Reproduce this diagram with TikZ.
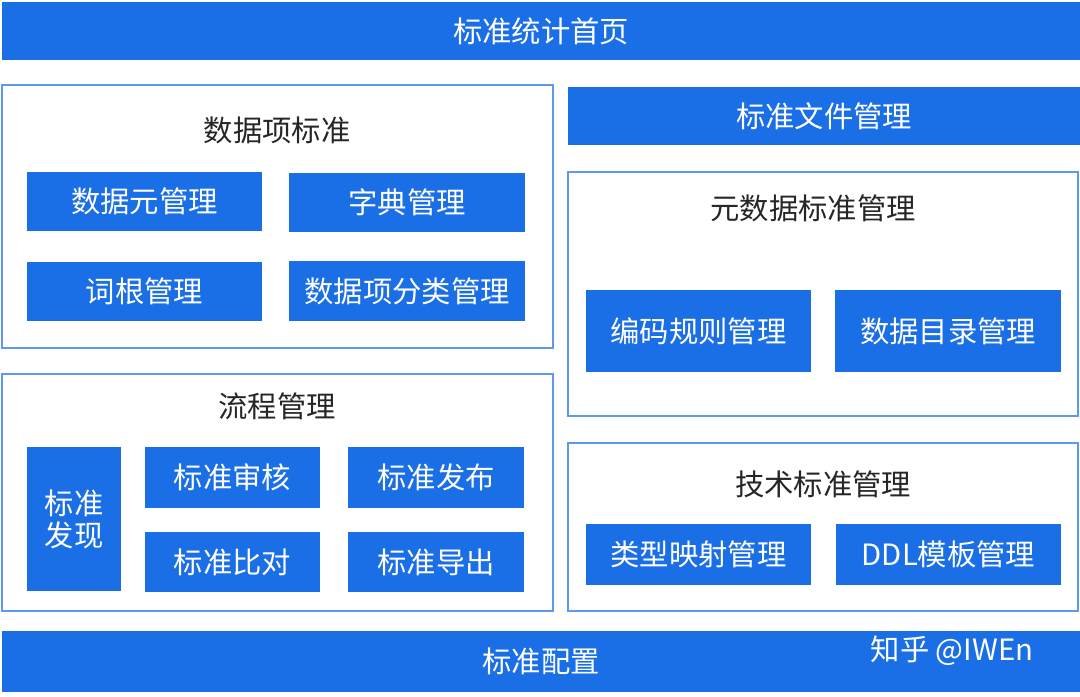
\documentclass[tikz,border=0pt]{standalone}
\usepackage{fontspec}
\setmainfont{Noto Sans CJK SC}
\begin{document}
\definecolor{bl}{HTML}{1A6EE6}
\begin{tikzpicture}[x=0.75pt,y=-0.75pt,
 fb/.style={fill=bl,draw=none,text=white,font=\fontsize{22}{26}\selectfont,inner sep=0},
 ob/.style={draw=bl!70,line width=1pt,fill=white},
 tt/.style={font=\fontsize{22}{26}\selectfont,text=black!85}]
\useasboundingbox (0,0) rectangle (1080,696);
\fill[white] (0,0) rectangle (1080,696);
\newcommand\fb[6]{\path[fb] (#1,#2) rectangle (#3,#4) node[midway,align=center] (#5) {#6};}
\fb{2}{2}{1080}{60}{top}{标准统计首页}
\draw[ob] (2,85) rectangle (553,348);
\node[tt] (t1) at (277,130) {数据项标准};
\fb{27}{172}{262}{231}{a1}{数据元管理}
\fb{289}{173}{525}{232}{a2}{字典管理}
\fb{27}{262}{262}{321}{a3}{词根管理}
\fb{289}{261}{525}{321}{a4}{数据项分类管理}
\draw[ob] (2,374) rectangle (553,611);
\node[tt] (t2) at (277,406) {流程管理};
\fb{27}{447}{121}{591}{b0}{标准\\[-2pt]发现}
\fb{145}{447}{320}{508}{b1}{标准审核}
\fb{348}{447}{524}{508}{b2}{标准发布}
\fb{145}{532}{320}{592}{b3}{标准比对}
\fb{348}{532}{524}{592}{b4}{标准导出}
\fb{568}{87}{1080}{145}{c0}{标准文件管理}
\draw[ob] (568,172) rectangle (1078,416);
\node[tt] (t3) at (813,208) {元数据标准管理};
\fb{586}{290}{811}{372}{c1}{编码规则管理}
\fb{835}{290}{1061}{372}{c2}{数据目录管理}
\draw[ob] (568,443) rectangle (1078,611);
\node[tt] (t4) at (823,484) {技术标准管理};
\fb{586}{524}{811}{585}{d1}{类型映射管理}
\fb{836}{524}{1061}{585}{d2}{DDL模板管理}
\fb{2}{631}{1080}{692}{bot}{标准配置}
\node[text=white,font=\fontsize{22}{26}\selectfont,anchor=west] (wm) at (866,651) {知乎 @IWEn};
\end{tikzpicture}
\end{document}
